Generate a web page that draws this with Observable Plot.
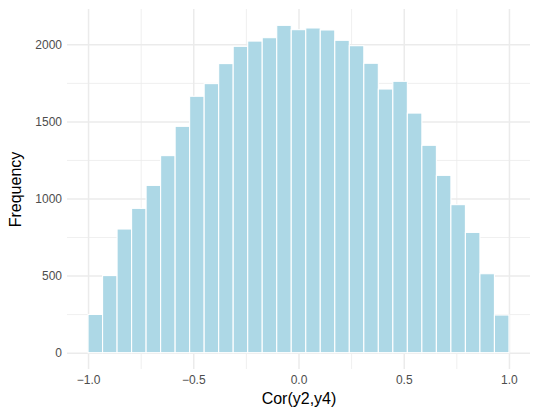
<!DOCTYPE html>
<html>
<head>
<meta charset="utf-8">
<script src="https://cdn.jsdelivr.net/npm/d3@7"></script>
<script src="https://cdn.jsdelivr.net/npm/@observablehq/plot@0.6"></script>
<style>
  html, body { margin: 0; padding: 0; background: #fff; }
  svg { display: block; }
</style>
</head>
<body>
<div id="chart"></div>
<script>
// Histogram counts, 29 equal-width bins from -1 to 1
const counts = [248, 500, 802, 936, 1085, 1278, 1468, 1663, 1745, 1875, 1987, 2021, 2043, 2123, 2095, 2106, 2093, 2026, 1991, 1877, 1710, 1760, 1554, 1345, 1150, 960, 780, 512, 244];
const binMin = -1;
const binMax = 1;
const xMajorTicks = [-1, -0.5, 0, 0.5, 1];
const xMinorTicks = [-0.75, -0.25, 0.25, 0.75];
const yMajorTicks = [0, 500, 1000, 1500, 2000];
const yMinorTicks = [250, 750, 1250, 1750];
const xTitle = "Cor(y2,y4)";
const yTitle = "Frequency";

const bw = (binMax - binMin) / counts.length;
const bins = counts.map((c, i) => ({x1: binMin + i * bw, x2: binMin + (i + 1) * bw, count: c}));

const font = "'Liberation Sans', Arial, Helvetica, sans-serif";
const gridColor = "#ebebeb";

const chart = Plot.plot({
  width: 554,
  height: 415,
  marginLeft: 67,
  marginRight: 24,
  marginTop: 9,
  marginBottom: 46,
  style: {fontFamily: font, background: "#fff"},
  x: {domain: [-1.1, 1.1]},
  y: {domain: [-106, 2229]},
  marks: [
    Plot.ruleX(xMinorTicks, {stroke: gridColor, strokeWidth: 0.8}),
    Plot.ruleY(yMinorTicks, {stroke: gridColor, strokeWidth: 0.8}),
    Plot.ruleX(xMajorTicks, {stroke: gridColor, strokeWidth: 1.5}),
    Plot.ruleY(yMajorTicks, {stroke: gridColor, strokeWidth: 1.5}),
    Plot.rect(bins, {x1: "x1", x2: "x2", y1: () => 0, y2: "count", fill: "#add8e6", stroke: "#ffffff", strokeWidth: 1.1}),
    Plot.axisX({ticks: xMajorTicks, tickSize: 0, tickPadding: 6, label: null,
      tickFormat: d => d.toFixed(1).replace("-", "\u2212"), fontSize: 12, fill: "#4d4d4d"}),
    Plot.axisY({ticks: yMajorTicks, tickSize: 0, tickPadding: 5.5, label: null,
      tickFormat: d => String(d), fontSize: 12, fill: "#4d4d4d"}),
    Plot.text([xTitle], {text: d => d, frameAnchor: "bottom", dy: 29.5, fontSize: 16, fill: "#000", lineAnchor: "middle", textAnchor: "middle"}),
    Plot.text([yTitle], {text: d => d, frameAnchor: "left", dx: -52, rotate: -90, fontSize: 16, fill: "#000", lineAnchor: "middle", textAnchor: "middle"})
  ]
});
document.getElementById("chart").appendChild(chart);
</script>
</body>
</html>
